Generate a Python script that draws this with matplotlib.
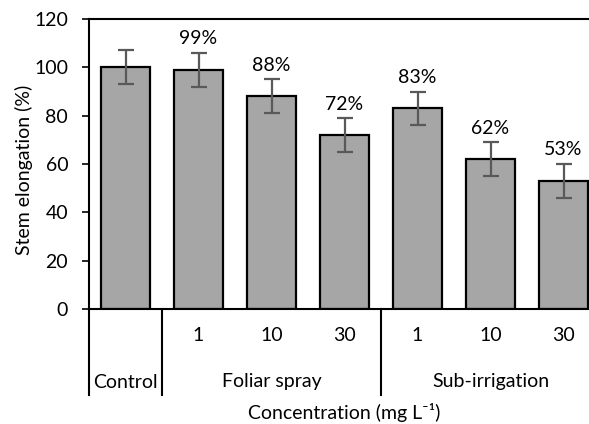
import matplotlib.pyplot as plt
import matplotlib.transforms as mtransforms
import numpy as np

plt.rcParams['font.family'] = ['Lato', 'DejaVu Sans']

# data
conc_labels = ["", "1", "10", "30", "1", "10", "30"]
elongation = [100, 99, 88, 72, 83, 62, 53]
errors = [7, 7, 7, 7, 7, 7, 7]
pct_labels = ["", "99%", "88%", "72%", "83%", "62%", "53%"]
groups = ["Control", "Foliar spray", "Sub-irrigation"]
group_spans = [(0, 1), (1, 4), (4, 7)]  # bar index ranges of each group

fs = 14
fig = plt.figure(figsize=(5.89, 4.24), dpi=100)
# axes runs past the right edge like the cropped original
ax = fig.add_axes([89 / 589, 115 / 424, 511 / 589, 290 / 424])

x = np.arange(len(elongation))
ax.bar(x, elongation, width=0.67, color="#a6a6a6", edgecolor="black", linewidth=1.6,
       yerr=errors, error_kw=dict(ecolor="#595959", elinewidth=1.6, capsize=6, capthick=1.6))

for i, lab in enumerate(pct_labels):
    if lab:
        ax.annotate(lab, (x[i], elongation[i] + errors[i]), xytext=(0, 4),
                    textcoords="offset points", ha="center", va="bottom", fontsize=fs)

ax.set_xlim(-0.5, len(elongation) - 0.5)
ax.set_ylim(0, 120)
ax.set_yticks(np.arange(0, 121, 20))
ax.tick_params(axis="y", labelsize=fs, length=5, width=1.2, pad=10)
ax.set_xticks(x)
ax.set_xticklabels(conc_labels, fontsize=fs)
ax.tick_params(axis="x", length=0, pad=13)
ax.set_ylabel("Stem elongation (%)", fontsize=fs)
ax.yaxis.set_label_coords((33 - 89) / 511, (424 - 170 - 115) / 290)

for s in ["left", "bottom", "top", "right"]:
    ax.spines[s].set_linewidth(1.5)

# group labels and separators below the axis
trans = mtransforms.blended_transform_factory(ax.transData, ax.transAxes)
for name, (a, b) in zip(groups, group_spans):
    ax.text((a + b - 1) / 2, -(382 - 309) / 290, name, transform=trans, ha="center",
            va="center", fontsize=fs)
for edge in [-0.5, 0.5, 3.5]:
    ax.plot([edge, edge], [0, -(395 - 309) / 290], transform=trans, color="black", lw=1.5,
            clip_on=False)

ax.text(0.5, -(412 - 309) / 290, "Concentration (mg L⁻¹)", transform=ax.transAxes,
        ha="center", va="center", fontsize=fs)

fig.savefig("out.png", dpi=100)
